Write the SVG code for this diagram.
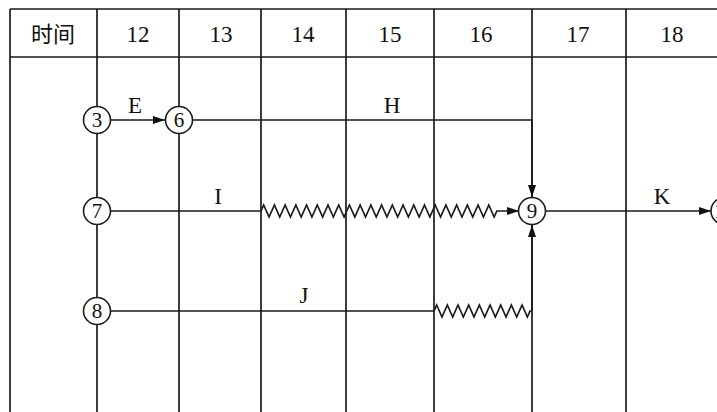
<svg xmlns="http://www.w3.org/2000/svg" width="717" height="412" viewBox="0 0 717 412">
<style>
.g{stroke:#1a1a1a;stroke-width:1.7;fill:none}
.c{stroke:#1a1a1a;stroke-width:1.7;fill:none}
.n circle{fill:#fff;stroke:#1a1a1a;stroke-width:1.6}
.t{font-family:"Liberation Serif","Noto Sans CJK SC",serif;fill:#111;text-anchor:middle}
.h{font-size:23px}
.l{font-size:23px}
.nt{font-size:21px}
</style>
<defs>
<marker id="ah" viewBox="0 0 12 8" refX="12" refY="4" markerWidth="12" markerHeight="8" markerUnits="userSpaceOnUse" orient="auto">
<path d="M0,0 L12,4 L0,8 Z" fill="#111"/>
</marker>
</defs>
<rect width="717" height="412" fill="#fff"/>
<g id="grid" class="g">
<line x1="10" y1="9" x2="717" y2="9"/>
<line x1="10" y1="57" x2="717" y2="57"/>
<line x1="10" y1="9" x2="10" y2="412"/>
<line x1="97" y1="9" x2="97" y2="412"/>
<line x1="179" y1="9" x2="179" y2="412"/>
<line x1="261" y1="9" x2="261" y2="412"/>
<line x1="346" y1="9" x2="346" y2="412"/>
<line x1="434" y1="9" x2="434" y2="412"/>
<line x1="532" y1="9" x2="532" y2="412"/>
<line x1="626" y1="9" x2="626" y2="412"/>
</g>
<g id="header" class="t h">
<text x="53" y="42" font-family="'Noto Sans CJK SC','Noto Sans CJK JP',sans-serif" font-size="22">时间</text>
<text x="138" y="42">12</text>
<text x="221" y="42">13</text>
<text x="303" y="42">14</text>
<text x="390" y="42">15</text>
<text x="481" y="42">16</text>
<text x="578" y="42">17</text>
<text x="672" y="42">18</text>
</g>
<g id="connectors">
<line class="c" x1="110" y1="120" x2="165" y2="120" marker-end="url(#ah)"/>
<polyline class="c" points="192,120 532,120 532,197" marker-end="url(#ah)"/>
<line class="c" x1="110" y1="211" x2="261" y2="211"/>
<path class="c" d="M261,211 l2.68,-6 l5.36,12 l2.68,-6 l2.68,-6 l5.36,12 l2.68,-6 l2.68,-6 l5.36,12 l2.68,-6 l2.68,-6 l5.36,12 l2.68,-6 l2.68,-6 l5.36,12 l2.68,-6 l2.68,-6 l5.36,12 l2.68,-6 l2.68,-6 l5.36,12 l2.68,-6 l2.68,-6 l5.36,12 l2.68,-6 l2.68,-6 l5.36,12 l2.68,-6 l2.68,-6 l5.36,12 l2.68,-6 l2.68,-6 l5.36,12 l2.68,-6 l2.68,-6 l5.36,12 l2.68,-6 l2.68,-6 l5.36,12 l2.68,-6 l2.68,-6 l5.36,12 l2.68,-6 l2.68,-6 l5.36,12 l2.68,-6 l2.68,-6 l5.36,12 l2.68,-6 l2.68,-6 l5.36,12 l2.68,-6 l2.68,-6 l5.36,12 l2.68,-6 l2.68,-6 l5.36,12 l2.68,-6 l2.68,-6 l5.36,12 l2.68,-6 l2.68,-6 l5.36,12 l2.68,-6 l2.68,-6 l5.36,12 l2.68,-6 L519,211" marker-end="url(#ah)"/>
<line class="c" x1="110" y1="311" x2="434" y2="311"/>
<path class="c" d="M434,311 l2.67,-6 l5.33,12 l2.67,-6 l2.67,-6 l5.33,12 l2.67,-6 l2.67,-6 l5.33,12 l2.67,-6 l2.67,-6 l5.33,12 l2.67,-6 l2.67,-6 l5.33,12 l2.67,-6 l2.67,-6 l5.33,12 l2.67,-6 l2.67,-6 l5.33,12 l2.67,-6 l2.67,-6 l5.33,12 l2.67,-6 l2.67,-6 l5.33,12 l2.67,-6 L532,311"/>
<line class="c" x1="532" y1="311" x2="532" y2="225" marker-end="url(#ah)"/>
<line class="c" x1="545" y1="211" x2="711" y2="211" marker-end="url(#ah)"/>
</g>
<g id="labels" class="t l">
<text x="135" y="113">E</text>
<text x="392" y="113">H</text>
<text x="218" y="204">I</text>
<text x="304" y="303">J</text>
<text x="662" y="204">K</text>
</g>
<g id="node3" class="n"><circle cx="97" cy="120" r="13.5"/><text class="t nt" x="97" y="127">3</text></g>
<g id="node6" class="n"><circle cx="179" cy="120" r="13.5"/><text class="t nt" x="179" y="127">6</text></g>
<g id="node7" class="n"><circle cx="97" cy="211" r="13.5"/><text class="t nt" x="97" y="218">7</text></g>
<g id="node8" class="n"><circle cx="97" cy="311" r="13.5"/><text class="t nt" x="97" y="318">8</text></g>
<g id="node9" class="n"><circle cx="532" cy="211" r="13.5"/><text class="t nt" x="532" y="218">9</text></g>
<g id="node10" class="n"><circle cx="724.5" cy="211" r="13.5"/><text class="t nt" x="724.5" y="218">10</text></g>
</svg>
